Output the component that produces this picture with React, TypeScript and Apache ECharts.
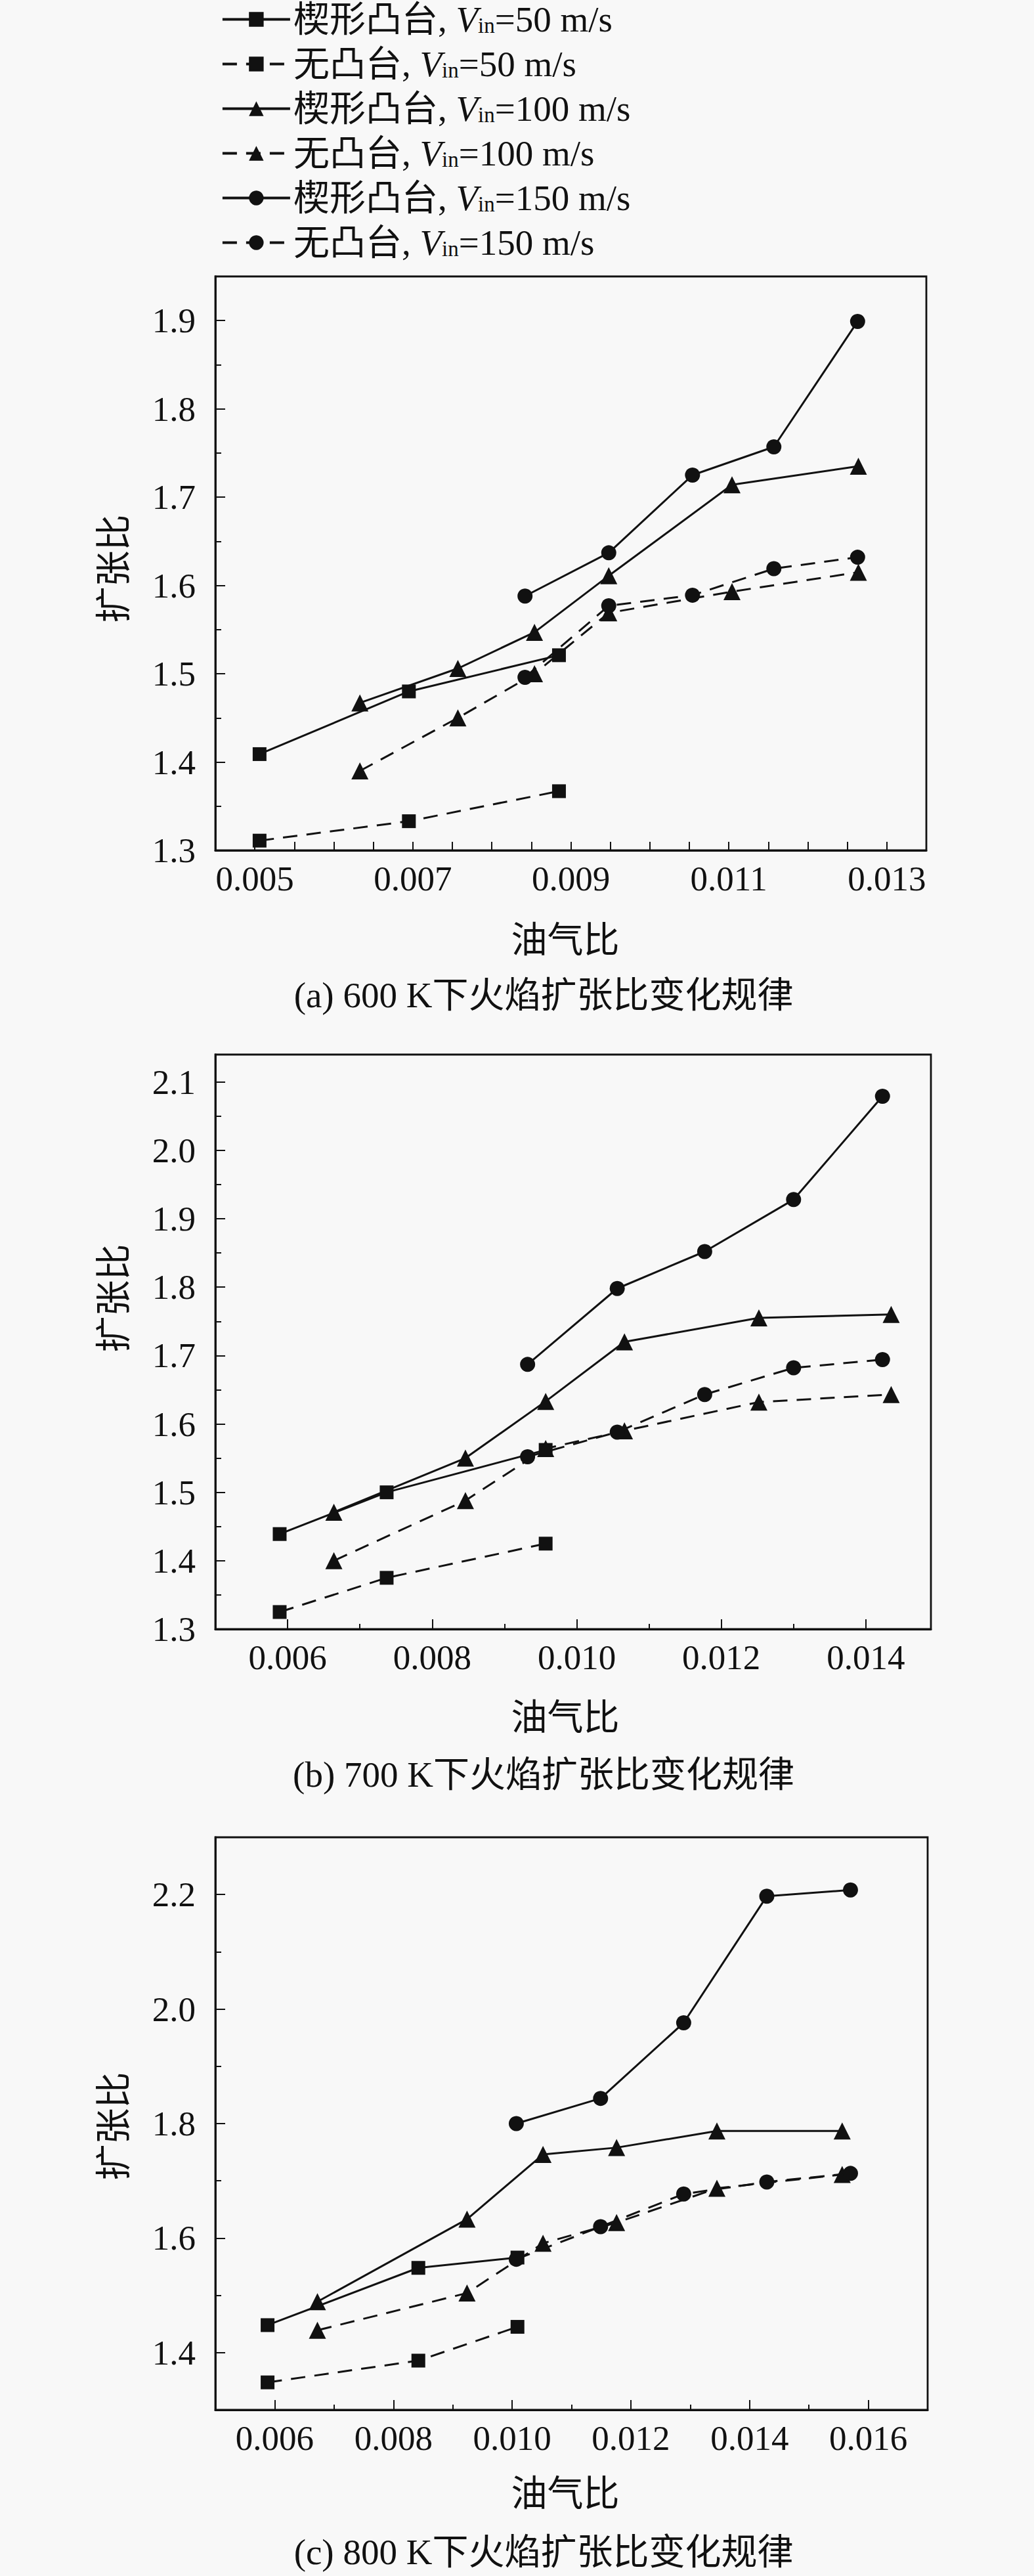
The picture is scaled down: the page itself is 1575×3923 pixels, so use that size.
import React, { useEffect, useRef } from 'react';
import * as echarts from 'echarts';

const FONT = "'Liberation Serif', 'Noto Sans CJK SC', serif";
const CJK = "'Noto Sans CJK SC', 'Liberation Serif', sans-serif";
const INK = '#111111';
const BG = '#f8f8f8';

const SERIES_NAMES = [
  '楔形凸台, Vin=50 m/s',
  '无凸台, Vin=50 m/s',
  '楔形凸台, Vin=100 m/s',
  '无凸台, Vin=100 m/s',
  '楔形凸台, Vin=150 m/s',
  '无凸台, Vin=150 m/s',
];
const SYMBOLS = ['rect', 'rect', 'triangle', 'triangle', 'circle', 'circle'];
const SYMBOL_SIZES = [21, 21, 26, 26, 23, 23];
const DASHED = [false, true, false, true, false, true];

// (a) 600 K
const A_W50 = [[0.00506, 1.409], [0.00695, 1.48], [0.00885, 1.521]];
const A_N50 = [[0.00506, 1.311], [0.00695, 1.333], [0.00885, 1.367]];
const A_W100 = [[0.00633, 1.467], [0.00757, 1.506], [0.00854, 1.547], [0.00948, 1.611], [0.01104, 1.714], [0.01264, 1.735]];
const A_N100 = [[0.00633, 1.39], [0.00757, 1.45], [0.00854, 1.5], [0.00948, 1.569], [0.01104, 1.593], [0.01264, 1.615]];
const A_W150 = [[0.00842, 1.588], [0.00948, 1.637], [0.01054, 1.725], [0.01157, 1.757], [0.01263, 1.899]];
const A_N150 = [[0.00842, 1.496], [0.00948, 1.577], [0.01054, 1.589], [0.01157, 1.619], [0.01263, 1.632]];
const A_X_TICKS = [0.005, 0.0055, 0.006, 0.0065, 0.007, 0.0075, 0.008, 0.0085, 0.009, 0.0095, 0.01, 0.0105, 0.011, 0.0115, 0.012, 0.0125, 0.013];
const A_X_LABELS = [0.005, 0.007, 0.009, 0.011, 0.013];
const A_Y_LABELS = [1.3, 1.4, 1.5, 1.6, 1.7, 1.8, 1.9];
const A_Y_MINOR = [1.35, 1.45, 1.55, 1.65, 1.75, 1.85];

// (b) 700 K
const B_W50 = [[0.00589, 1.439], [0.00737, 1.5], [0.00957, 1.562]];
const B_N50 = [[0.00589, 1.325], [0.00737, 1.375], [0.00957, 1.425]];
const B_W100 = [[0.00664, 1.471], [0.00846, 1.55], [0.00957, 1.633], [0.01066, 1.72], [0.01252, 1.755], [0.01435, 1.76]];
const B_N100 = [[0.00664, 1.4], [0.00846, 1.488], [0.00957, 1.564], [0.01066, 1.59], [0.01252, 1.632], [0.01435, 1.643]];
const B_W150 = [[0.00932, 1.687], [0.01056, 1.798], [0.01177, 1.852], [0.013, 1.928], [0.01423, 2.079]];
const B_N150 = [[0.00932, 1.552], [0.01056, 1.588], [0.01177, 1.643], [0.013, 1.682], [0.01423, 1.694]];
const B_X_LABELS = [0.006, 0.008, 0.01, 0.012, 0.014];
const B_X_MINOR = [0.007, 0.009, 0.011, 0.013];
const B_Y_LABELS = [1.3, 1.4, 1.5, 1.6, 1.7, 1.8, 1.9, 2.0, 2.1];
const B_Y_MINOR = [1.35, 1.45, 1.55, 1.65, 1.75, 1.85, 1.95, 2.05];

// (c) 800 K
const C_W50 = [[0.00588, 1.448], [0.00842, 1.548], [0.01009, 1.566]];
const C_N50 = [[0.00588, 1.348], [0.00842, 1.386], [0.01009, 1.445]];
const C_W100 = [[0.00672, 1.489], [0.00924, 1.633], [0.01052, 1.746], [0.01176, 1.758], [0.01345, 1.787], [0.01556, 1.787]];
const C_N100 = [[0.00672, 1.439], [0.00924, 1.504], [0.01052, 1.591], [0.01176, 1.627], [0.01345, 1.687], [0.01556, 1.711]];
const C_W150 = [[0.01007, 1.8], [0.01149, 1.844], [0.01289, 1.976], [0.01429, 2.197], [0.0157, 2.208]];
const C_N150 = [[0.01007, 1.563], [0.01149, 1.62], [0.01289, 1.677], [0.01429, 1.698], [0.0157, 1.713]];
const C_X_LABELS = [0.006, 0.008, 0.01, 0.012, 0.014, 0.016];
const C_X_MINOR = [0.007, 0.009, 0.011, 0.013, 0.015];
const C_Y_LABELS = [1.4, 1.6, 1.8, 2.0, 2.2];
const C_Y_MINOR = [1.5, 1.7, 1.9, 2.1];

const CAPTIONS = ['(a) 600 K下火焰扩张比变化规律', '(b) 700 K下火焰扩张比变化规律', '(c) 800 K下火焰扩张比变化规律'];
const X_NAME = '油气比';
const Y_NAME = '扩张比';

const PANELS = [
  {
    grid: { left: 328, top: 421, width: 1083, height: 874 },
    x: [0.0045, 0.0135], y: [1.3, 1.95],
    xMajor: A_X_TICKS, xMajorLen: 13, xMinor: [] as number[], xLabels: A_X_LABELS,
    yMajor: A_Y_LABELS, yMinor: A_Y_MINOR, yLabels: A_Y_LABELS,
    data: [A_W50, A_N50, A_W100, A_N100, A_W150, A_N150],
    yNameY: 866, xNameY: 1426, captionY: 1515,
  },
  {
    grid: { left: 328, top: 1606, width: 1090, height: 875 },
    x: [0.005, 0.0149], y: [1.3, 2.14],
    xMajor: B_X_LABELS, xMajorLen: 15, xMinor: B_X_MINOR, xLabels: B_X_LABELS,
    yMajor: B_Y_LABELS, yMinor: B_Y_MINOR, yLabels: B_Y_LABELS,
    data: [B_W50, B_N50, B_W100, B_N100, B_W150, B_N150],
    yNameY: 1977, xNameY: 2610, captionY: 2702,
  },
  {
    grid: { left: 328, top: 2798, width: 1085, height: 872 },
    x: [0.005, 0.017], y: [1.3, 2.3],
    xMajor: C_X_LABELS, xMajorLen: 15, xMinor: C_X_MINOR, xLabels: C_X_LABELS,
    yMajor: C_Y_LABELS, yMinor: C_Y_MINOR, yLabels: C_Y_LABELS,
    data: [C_W50, C_N50, C_W100, C_N100, C_W150, C_N150],
    yNameY: 3238, xNameY: 3792, captionY: 3886,
  },
];

function buildOption() {
  const grid: any[] = [];
  const xAxis: any[] = [];
  const yAxis: any[] = [];
  const series: any[] = [];
  const graphic: any[] = [];

  PANELS.forEach((p, i) => {
    grid.push({
      ...p.grid,
      show: true,
      borderColor: INK,
      borderWidth: 2.8,
      backgroundColor: 'transparent',
      containLabel: false,
    });
    const xi = xAxis.length;
    xAxis.push({
      type: 'value', gridIndex: i, position: 'bottom', min: p.x[0], max: p.x[1],
      axisLine: { show: true, onZero: false, lineStyle: { color: INK, width: 2.8 } },
      axisTick: { show: true, inside: true, length: p.xMajorLen, customValues: p.xMajor, lineStyle: { color: INK, width: 2 } },
      axisLabel: {
        show: true, customValues: p.xLabels, margin: 16,
        formatter: (v: number) => v.toFixed(3),
        fontFamily: FONT, fontSize: 53, color: INK,
      },
      splitLine: { show: false },
    });
    xAxis.push({
      type: 'value', gridIndex: i, position: 'bottom', min: p.x[0], max: p.x[1],
      axisLine: { show: false, onZero: false },
      axisTick: { show: p.xMinor.length > 0, inside: true, length: 8, customValues: p.xMinor, lineStyle: { color: INK, width: 2 } },
      axisLabel: { show: false },
      splitLine: { show: false },
    });
    const yi = yAxis.length;
    yAxis.push({
      type: 'value', gridIndex: i, position: 'left', min: p.y[0], max: p.y[1],
      axisLine: { show: true, onZero: false, lineStyle: { color: INK, width: 2.8 } },
      axisTick: { show: true, inside: true, length: 15, customValues: p.yMajor, lineStyle: { color: INK, width: 2 } },
      axisLabel: {
        show: true, customValues: p.yLabels, margin: 30,
        formatter: (v: number) => v.toFixed(1),
        fontFamily: FONT, fontSize: 53, color: INK,
      },
      splitLine: { show: false },
    });
    yAxis.push({
      type: 'value', gridIndex: i, position: 'left', min: p.y[0], max: p.y[1],
      axisLine: { show: false, onZero: false },
      axisTick: { show: true, inside: true, length: 9, customValues: p.yMinor, lineStyle: { color: INK, width: 2 } },
      axisLabel: { show: false },
      splitLine: { show: false },
    });

    p.data.forEach((d, k) => {
      series.push({
        type: 'line',
        name: SERIES_NAMES[k],
        xAxisIndex: xi,
        yAxisIndex: yi,
        data: d,
        symbol: SYMBOLS[k],
        symbolSize: SYMBOL_SIZES[k],
        showSymbol: true,
        itemStyle: { color: INK },
        lineStyle: { color: INK, width: 3, type: DASHED[k] ? [22, 14] : 'solid' },
        z: 3,
      });
    });

    graphic.push({
      type: 'text', x: 168, y: p.yNameY, rotation: Math.PI / 2,
      style: { text: Y_NAME, fontSize: 55, fontFamily: CJK, fill: INK, align: 'center', verticalAlign: 'middle' },
    });
    graphic.push({
      type: 'text', x: 861, y: p.xNameY,
      style: { text: X_NAME, fontSize: 55, fontFamily: CJK, fill: INK, align: 'center', verticalAlign: 'middle' },
    });
    graphic.push({
      type: 'text', x: 828, y: p.captionY,
      style: { text: CAPTIONS[i], fontSize: 55, fontFamily: FONT, fill: INK, align: 'center', verticalAlign: 'middle' },
    });
  });

  return {
    animation: false,
    backgroundColor: BG,
    legend: {
      orient: 'vertical',
      left: 337,
      top: 2,
      padding: 0,
      itemGap: 13,
      itemWidth: 103,
      itemHeight: 28,
      data: SERIES_NAMES,
      lineStyle: { width: 3.8 },
      formatter: (name: string) => {
        const parts = name.split('Vin');
        return `${parts[0]}{i|V}{s|in}${parts[1]}`;
      },
      textStyle: {
        fontFamily: FONT, fontSize: 55, color: INK, lineHeight: 52,
        rich: {
          i: { fontFamily: FONT, fontSize: 55, fontStyle: 'italic', color: INK, lineHeight: 52 },
          s: { fontFamily: FONT, fontSize: 33, color: INK, lineHeight: 22, verticalAlign: 'bottom' },
        },
      },
    },
    grid,
    xAxis,
    yAxis,
    series,
    graphic,
  };
}

export default function App() {
  const ref = useRef<HTMLDivElement>(null);
  useEffect(() => {
    document.body.style.margin = '0';
    if (!ref.current) return;
    const chart = echarts.init(ref.current, undefined, { renderer: 'svg', width: 1575, height: 3923 });
    chart.setOption(buildOption() as any);
    return () => chart.dispose();
  }, []);
  return <div ref={ref} style={{ width: 1575, height: 3923, position: 'absolute', left: 0, top: 0 }} />;
}
